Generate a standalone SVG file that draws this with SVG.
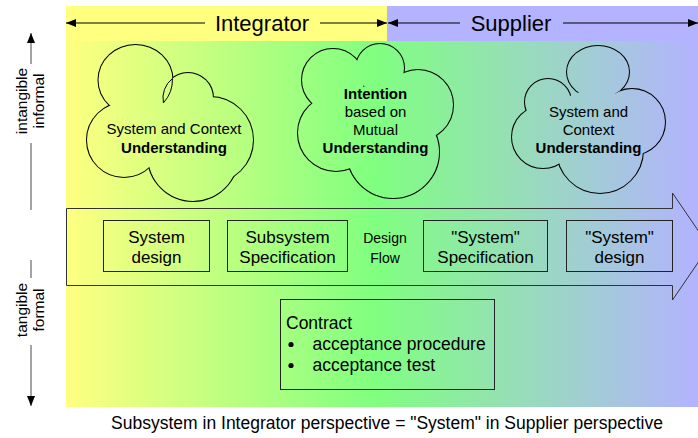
<svg xmlns="http://www.w3.org/2000/svg" width="698" height="438" viewBox="0 0 698 438">
<defs>
<linearGradient id="bg" gradientUnits="userSpaceOnUse" x1="66" y1="0" x2="698" y2="0">
<stop offset="0" stop-color="#FFFF80"/>
<stop offset="0.49" stop-color="#80FF80"/>
<stop offset="1" stop-color="#B3B3FF"/>
</linearGradient>
<marker id="ah" viewBox="0 0 10 8" refX="10" refY="4" markerWidth="10" markerHeight="8" markerUnits="userSpaceOnUse" orient="auto"><path d="M0,0 L10,4 L0,8 Z" fill="#000"/></marker>
</defs>
<style>
text{font-family:"Liberation Sans",Arial,sans-serif;fill:#000}
.hdr{font-size:22px}
.box{font-size:17px}
.cl{font-size:15px}
.b{font-weight:bold}
.ax{font-size:15.5px}
.bx{fill:none;stroke:#222;stroke-width:1}
.cs{stroke:#000;stroke-width:2;fill:none}
.cf{fill:url(#bg);stroke:none}
.hl{stroke:#000;stroke-width:1.2;fill:none}
.al{stroke:#666;stroke-width:1.2;fill:none}
</style>
<rect x="66" y="6" width="321" height="35" fill="#FFFF80"/>
<rect x="387" y="6" width="311" height="35" fill="#B3B3FF"/>
<rect x="66" y="41" width="632" height="366" fill="url(#bg)"/>
<g id="connectors">
<line class="hl" x1="205" y1="23" x2="66" y2="23" marker-end="url(#ah)"/>
<line class="hl" x1="320" y1="23" x2="387" y2="23" marker-end="url(#ah)"/>
<line class="hl" x1="460" y1="23" x2="388" y2="23" marker-end="url(#ah)"/>
<line class="hl" x1="563" y1="23" x2="698" y2="23" marker-end="url(#ah)"/>
<line class="al" x1="31" y1="64" x2="31" y2="33" marker-end="url(#ah)"/>
<line class="al" x1="31" y1="143" x2="31" y2="210"/>
<line class="al" x1="31" y1="260" x2="31" y2="278"/>
<line class="al" x1="31" y1="345" x2="31" y2="406" marker-end="url(#ah)"/>
</g>
<g id="axis-top"><text class="ax" transform="translate(27,101) rotate(-90)" text-anchor="middle">intangible</text><text class="ax" transform="translate(44,101) rotate(-90)" text-anchor="middle">informal</text></g>
<g id="axis-bottom"><text class="ax" transform="translate(27,310) rotate(-90)" text-anchor="middle">tangible</text><text class="ax" transform="translate(44,310) rotate(-90)" text-anchor="middle">formal</text></g>
<g id="integrator"><text class="hdr" x="262" y="31" text-anchor="middle">Integrator</text></g>
<g id="supplier"><text class="hdr" x="511" y="31" text-anchor="middle">Supplier</text></g>
<g id="cloud1">
<ellipse class="cs" cx="135.5" cy="80" rx="37" ry="35"/><circle class="cs" cx="188" cy="98" r="25"/><circle class="cs" cx="210" cy="140" r="43"/><circle class="cs" cx="193" cy="156" r="45"/><circle class="cs" cx="124" cy="140" r="37"/>
<ellipse class="cf" cx="135.5" cy="80" rx="37" ry="35"/><circle class="cf" cx="188" cy="98" r="25"/><circle class="cf" cx="210" cy="140" r="43"/><circle class="cf" cx="193" cy="156" r="45"/><circle class="cf" cx="124" cy="140" r="37"/><ellipse class="cf" cx="170" cy="130" rx="50" ry="40"/>
<path d="M172.4,78.5 A37,35 0 0 1 163.4,102.9 A25,25 0 0 1 172.4,78.5" fill="none" stroke="#000" stroke-width="1"/>
<text class="cl" x="174" y="134" text-anchor="middle">System and Context</text>
<text class="cl b" x="174" y="153" text-anchor="middle">Understanding</text>
</g>
<g id="cloud2">
<circle class="cs" cx="333" cy="80" r="31"/><circle class="cs" cx="380" cy="68" r="24"/><circle class="cs" cx="418" cy="105" r="35"/><circle class="cs" cx="393" cy="152" r="46"/><circle class="cs" cx="336" cy="133" r="38"/>
<circle class="cf" cx="333" cy="80" r="31"/><circle class="cf" cx="380" cy="68" r="24"/><circle class="cf" cx="418" cy="105" r="35"/><circle class="cf" cx="393" cy="152" r="46"/><circle class="cf" cx="336" cy="133" r="38"/><ellipse class="cf" cx="375" cy="120" rx="40" ry="35"/>
<text class="cl b" x="375.5" y="99" text-anchor="middle">Intention</text>
<text class="cl" x="375.5" y="117" text-anchor="middle">based on</text>
<text class="cl" x="375.5" y="135" text-anchor="middle">Mutual</text>
<text class="cl b" x="375.5" y="153" text-anchor="middle">Understanding</text>
</g>
<g id="cloud3">
<ellipse class="cs" cx="598" cy="72" rx="31" ry="26"/><circle class="cs" cx="632" cy="122" r="33"/><circle class="cs" cx="600" cy="150" r="43"/><circle class="cs" cx="543" cy="137" r="31"/><circle class="cs" cx="548" cy="102" r="23"/>
<ellipse class="cf" cx="598" cy="72" rx="31" ry="26"/><circle class="cf" cx="632" cy="122" r="33"/><circle class="cf" cx="600" cy="150" r="43"/><circle class="cf" cx="543" cy="137" r="31"/><circle class="cf" cx="548" cy="102" r="23"/><ellipse class="cf" cx="595" cy="125" rx="45" ry="35"/>
<text class="cl" x="588.5" y="117" text-anchor="middle">System and</text>
<text class="cl" x="588.5" y="135" text-anchor="middle">Context</text>
<text class="cl b" x="588.5" y="153" text-anchor="middle">Understanding</text>
</g>
<g id="design-flow">
<path d="M66.5,208.5 H672.5 V193 L709,246.5 L672.5,300 V285.5 H66.5 Z" fill="none" stroke="#333" stroke-width="1"/>
<text class="cl" x="385" y="243" text-anchor="middle" style="font-size:14px">Design</text>
<text class="cl" x="385" y="263" text-anchor="middle" style="font-size:14px">Flow</text>
</g>
<g id="system-design"><rect class="bx" x="103.5" y="220.5" width="106" height="51"/><text class="box" x="156.5" y="243" text-anchor="middle">System</text><text class="box" x="156.5" y="263" text-anchor="middle">design</text></g>
<g id="subsystem-spec"><rect class="bx" x="227.5" y="220.5" width="120" height="51"/><text class="box" x="287.5" y="243" text-anchor="middle">Subsystem</text><text class="box" x="287.5" y="263" text-anchor="middle">Specification</text></g>
<g id="system-spec"><rect class="bx" x="423.5" y="220.5" width="124" height="51"/><text class="box" x="485.5" y="243" text-anchor="middle">"System"</text><text class="box" x="485.5" y="263" text-anchor="middle">Specification</text></g>
<g id="system-design-s"><rect class="bx" x="566.5" y="220.5" width="106" height="51"/><text class="box" x="619.5" y="243" text-anchor="middle">"System"</text><text class="box" x="619.5" y="263" text-anchor="middle">design</text></g>
<g id="contract"><rect class="bx" x="280.5" y="299.5" width="214" height="90"/>
<text class="box" x="286" y="329" style="font-size:17.5px">Contract</text>
<circle cx="291" cy="344.5" r="2.6" fill="#000"/><text class="box" x="312.5" y="350" style="font-size:17.5px">acceptance procedure</text>
<circle cx="291" cy="365.5" r="2.6" fill="#000"/><text class="box" x="312.5" y="371" style="font-size:17.5px">acceptance test</text>
</g>
<g id="caption"><text class="box" x="387" y="429" text-anchor="middle" style="font-size:17.5px">Subsystem in Integrator perspective = "System" in Supplier perspective</text></g>
</svg>
